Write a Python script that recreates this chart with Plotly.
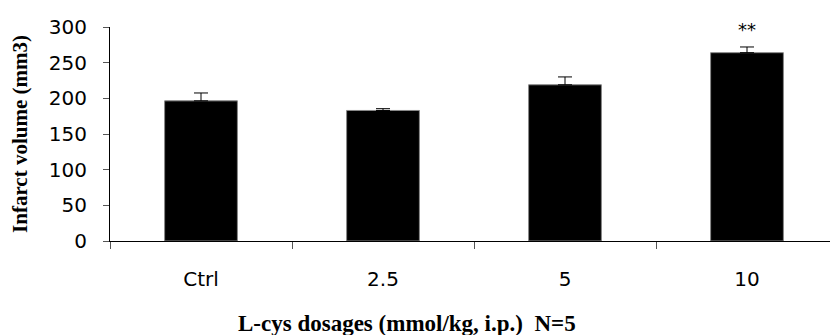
import plotly.graph_objects as go

categories = ["Ctrl", "2.5", "5", "10"]
volumes = [196.5, 183, 219, 264]
errors = [11, 2.5, 11, 8]
significance = ["", "", "", "**"]
y_ticks = [0, 50, 100, 150, 200, 250, 300]

fig = go.Figure()
fig.add_trace(go.Bar(
    x=categories, y=volumes,
    width=0.4,
    marker=dict(color="black", line=dict(color="#888888", width=1)),
    error_y=dict(type="data", array=errors, visible=True, color="black",
                 thickness=1, width=7, symmetric=False, arrayminus=[0]*4),
))

for i, (v, e, s) in enumerate(zip(volumes, errors, significance)):
    if s:
        fig.add_annotation(x=i, y=v + e, xref="x", yref="y", text=s, showarrow=False,
                           yshift=17,
                           font=dict(family="DejaVu Sans", size=18, color="black"))

# x-axis title as paper annotation
fig.add_annotation(xref="paper", yref="paper", x=(407 - 110) / 720, y=(241 - 323) / 214,
                   xanchor="center", yanchor="middle", showarrow=False,
                   text="<b>L-cys dosages (mmol/kg, i.p.) &nbsp;N=5</b>",
                   font=dict(family="Liberation Serif, Times New Roman", size=23, color="black"))

fig.update_layout(
    width=830, height=335,
    margin=dict(l=110, r=0, t=27, b=94),
    plot_bgcolor="white", paper_bgcolor="white",
    showlegend=False,
    font=dict(family="DejaVu Sans", size=20, color="black"),
)
fig.update_xaxes(
    type="category", range=[-0.5, -0.5 + 720 / 182],
    showline=True, linecolor="black", linewidth=1,
    ticks="outside", tickson="boundaries", ticklen=7, tickcolor="#555555",
    ticklabelstandoff=20,
    showgrid=False, zeroline=False,
)
fig.update_yaxes(
    range=[0, 300], tickvals=y_ticks,
    showline=True, linecolor="black", linewidth=1,
    ticks="outside", ticklen=6, tickcolor="#555555",
    ticklabelstandoff=12,
    showgrid=False, zeroline=False,
    title=dict(text="<b>Infarct volume (mm3)</b>",
               font=dict(family="Liberation Serif, Times New Roman", size=21),
               standoff=15),
)

fig.write_html("out.html")
